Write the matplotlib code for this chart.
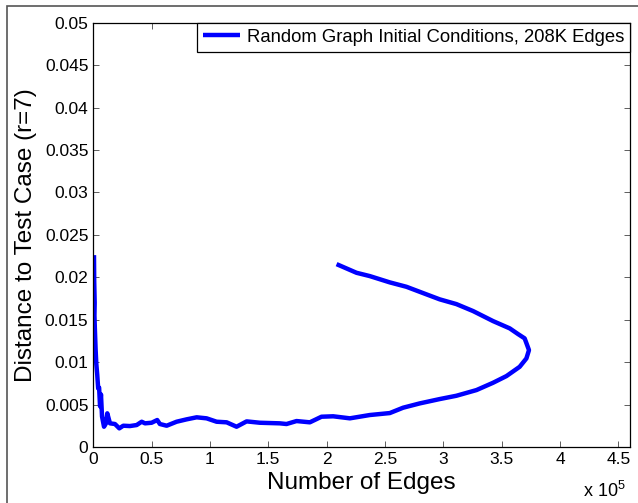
import numpy as np
import matplotlib
matplotlib.use("Agg")
import matplotlib.pyplot as plt
from matplotlib.ticker import FuncFormatter, MultipleLocator
from matplotlib.patches import Rectangle

plt.rcParams['font.family'] = ['Liberation Sans', 'DejaVu Sans']
plt.rcParams['mathtext.fontset'] = 'custom'
plt.rcParams['mathtext.rm'] = 'Liberation Sans'

# trajectory: number of edges vs distance to test case
edges = np.array([
    2.085, 2.256, 2.370, 2.541, 2.684, 2.855, 2.969, 3.112, 3.255, 3.426,
    3.569, 3.640, 3.697, 3.734, 3.712, 3.654, 3.541, 3.426, 3.284, 3.112,
    2.969, 2.798, 2.655, 2.541, 2.370, 2.199, 2.056, 1.956, 1.856, 1.742,
    1.656, 1.599, 1.428, 1.314, 1.228, 1.143, 1.057, 0.971, 0.886, 0.800,
    0.714, 0.629, 0.571, 0.548, 0.500, 0.443, 0.415, 0.372, 0.314, 0.257,
    0.223, 0.186, 0.143, 0.120, 0.109, 0.092, 0.075, 0.066, 0.058, 0.050,
    0.042, 0.034, 0.026, 0.020, 0.014, 0.010, 0.012, 0.008, 0.006,
]) * 1e5
distance = np.array([
    0.02155, 0.02053, 0.02014, 0.01940, 0.01888, 0.01799, 0.01740, 0.01684, 0.01602, 0.01484,
    0.01398, 0.01331, 0.01280, 0.01142, 0.01044, 0.00945, 0.00836, 0.00757, 0.00671, 0.00604,
    0.00565, 0.00514, 0.00463, 0.00400, 0.00377, 0.00338, 0.00362, 0.00357, 0.00291, 0.00306,
    0.00271, 0.00279, 0.00286, 0.00302, 0.00239, 0.00291, 0.00298, 0.00338, 0.00350, 0.00326,
    0.00298, 0.00251, 0.00271, 0.00318, 0.00286, 0.00279, 0.00298, 0.00259, 0.00247, 0.00251,
    0.00220, 0.00271, 0.00279, 0.00397, 0.00279, 0.00239, 0.00360, 0.00620, 0.00480, 0.00700,
    0.00690, 0.00850, 0.00980, 0.01150, 0.01380, 0.01550, 0.01700, 0.01950, 0.02261,
])
series_label = 'Random Graph Initial Conditions, 208K Edges'

fig = plt.figure(figsize=(6.38, 5.03), dpi=100)
ax = fig.add_axes([0.1462, 0.1113, 0.8413, 0.8436])

ax.plot(edges, distance, color='#0000ff', lw=3.2, solid_joinstyle='round',
        solid_capstyle='butt', label=series_label)

ax.set_xlim(0, 4.6e5)
ax.set_ylim(0, 0.05)
ax.xaxis.set_major_locator(MultipleLocator(0.5e5))
ax.yaxis.set_major_locator(MultipleLocator(0.005))
ax.xaxis.set_major_formatter(FuncFormatter(lambda v, p: '%g' % round(v / 1e5, 3)))
ax.yaxis.set_major_formatter(FuncFormatter(lambda v, p: '%g' % round(v, 4)))
ax.tick_params(direction='in', length=4, width=0.6, labelsize=12.5,
               top=True, right=True, color='#444444')
for s in ax.spines.values():
    s.set_linewidth(0.9)

ax.set_xlabel('Number of Edges', fontsize=17.5)
ax.set_ylabel('Distance to Test Case (r=7)', fontsize=17.5)
ax.xaxis.set_label_coords(0.5, -0.06)
ax.yaxis.set_label_coords(-0.104, 0.5)
ax.text(0.9926, -0.118, r'x 10$^5$', transform=ax.transAxes, ha='right',
        va='baseline', fontsize=13)

leg = ax.legend(loc='upper right', borderaxespad=0, fontsize=13.3,
                handlelength=2.0, handletextpad=0.35, borderpad=0.32,
                fancybox=False, framealpha=1)
leg.get_frame().set_edgecolor('black')
leg.get_frame().set_linewidth(0.9)

# outer figure frame
fig.patches.append(Rectangle((6.5 / 638, -0.5), 2.0, 0.988 + 0.5,
                             transform=fig.transFigure, fill=False,
                             edgecolor='#555555', lw=1.2))

fig.savefig('out.png', dpi=100)
